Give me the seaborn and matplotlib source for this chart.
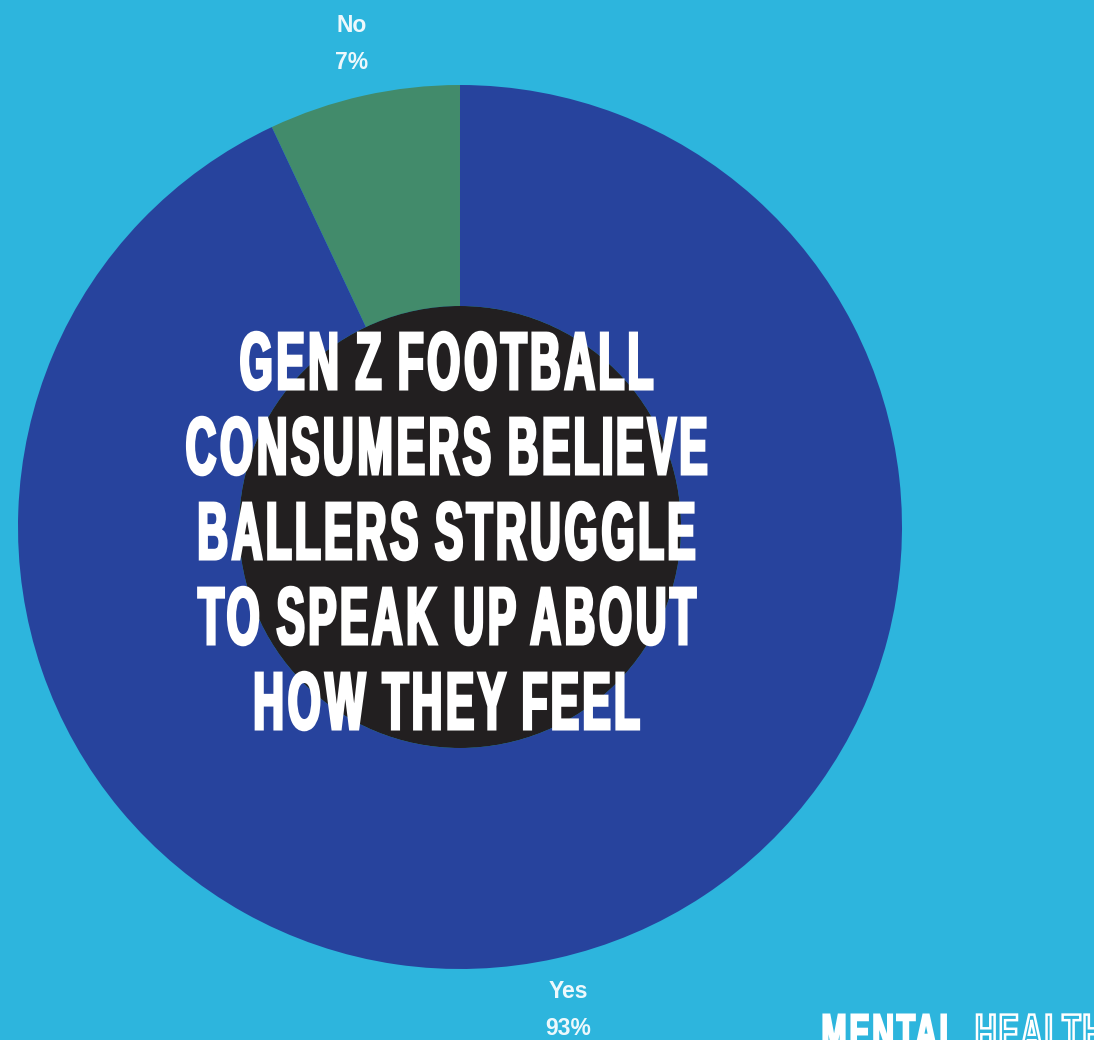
import numpy as np
import matplotlib
matplotlib.use("Agg")
import matplotlib.pyplot as plt
import seaborn as sns
from matplotlib.patches import Circle
from matplotlib.patheffects import AbstractPathEffect
from matplotlib.path import Path

# ---- data ----
answers = ["No", "Yes"]
shares = [7, 93]
slice_colors = ["#428b6b", "#27439d"]
headline_lines = [
    "GEN Z FOOTBALL",
    "CONSUMERS BELIEVE",
    "BALLERS STRUGGLE",
    "TO SPEAK UP ABOUT",
    "HOW THEY FEEL",
]
badge_words = ["MENTAL", "HEALTH"]

BG = "#2db5dd"
HOLE = "#221f20"

sns.set_theme(style="white")
plt.rcParams["font.family"] = ["Liberation Sans", "DejaVu Sans"]


def _squeeze(path, sx_glyph, sx_pos, anchor):
    """Narrow every glyph and pull the glyphs closer together."""
    verts = path.vertices.copy()
    codes = path.codes
    if codes is None or len(verts) == 0:
        return path
    starts = list(np.where(codes == Path.MOVETO)[0]) + [len(verts)]
    spans = [(starts[i], starts[i + 1]) for i in range(len(starts) - 1)]
    boxes = [(verts[a:b, 0].min(), verts[a:b, 0].max()) for a, b in spans]
    x_min, x_max = verts[:, 0].min(), verts[:, 0].max()
    ref = 0.5 * (x_min + x_max) if anchor == "center" else x_min
    for i, (a, b) in enumerate(spans):
        x0, x1 = boxes[i]
        owner = None
        for j, (y0, y1) in enumerate(boxes):
            if j != i and y0 <= x0 + 1e-6 and y1 >= x1 - 1e-6 and (y1 - y0) > (x1 - x0):
                if owner is None or (y1 - y0) < boxes[owner][1] - boxes[owner][0]:
                    owner = j
        if owner is not None:
            x0, x1 = boxes[owner]
        c = 0.5 * (x0 + x1)
        c_new = ref + sx_pos * (c - ref)
        verts[a:b, 0] = c_new + sx_glyph * (verts[a:b, 0] - c)
    return Path(verts, codes)


class Condensed(AbstractPathEffect):
    """Draw text as a condensed face, with an optional outline."""

    def __init__(self, sx_glyph=0.55, sx_pos=0.6, lw=0.0, edge=None, anchor="center"):
        super().__init__()
        self.sx_glyph = sx_glyph
        self.sx_pos = sx_pos
        self.lw = lw
        self.edge = edge
        self.anchor = anchor

    def draw_path(self, renderer, gc, tpath, affine, rgbFace=None):
        p = _squeeze(tpath, self.sx_glyph, self.sx_pos, self.anchor)
        gc0 = renderer.new_gc()
        gc0.copy_properties(gc)
        if self.lw > 0:
            gc0.set_linewidth(self.lw)
            gc0.set_foreground(self.edge if self.edge is not None else rgbFace)
            gc0.set_joinstyle("miter")
        else:
            gc0.set_linewidth(0)
        renderer.draw_path(gc0, p, affine, rgbFace)
        gc0.restore()


W, H = 1094, 1040
fig = plt.figure(figsize=(W / 100, H / 100), dpi=100, facecolor=BG)

cx_px, cy_px, r_px = 460, 527, 442
ax = fig.add_axes([(cx_px - r_px) / W, (H - cy_px - r_px) / H, 2 * r_px / W, 2 * r_px / H])
ax.set_facecolor(BG)

labels = [f"{a}\n{s}%" for a, s in zip(answers, shares)]
wedges, texts = ax.pie(
    shares,
    labels=labels,
    colors=slice_colors,
    startangle=90,
    counterclock=True,
    radius=1.0,
    labeldistance=1.12,
    wedgeprops=dict(width=0.5, linewidth=0),
    textprops=dict(color="white", fontsize=16.5, fontweight="bold", alpha=0.92),
)
for t in texts:
    t.set_ha("center")
    t.set_va("center")
    t.set_linespacing(1.8)

ax.add_patch(Circle((0, 0), 0.5, facecolor=HOLE, edgecolor="none", zorder=3))
ax.set_xlim(-1, 1)
ax.set_ylim(-1, 1)
ax.set_aspect("equal")
ax.axis("off")

# headline over the chart
baselines = [389, 474, 559, 644, 729]
for line, yb in zip(headline_lines, baselines):
    fig.text(
        447 / W, 1 - yb / H, line,
        ha="center", va="baseline", color="white",
        fontsize=58.5, fontweight="bold", zorder=10,
        path_effects=[Condensed(sx_glyph=0.52, sx_pos=0.585, lw=2.2)],
    )

# corner badge
fig.text(820 / W, 1 - 1049 / H, badge_words[0], ha="left", va="baseline",
         color="white", fontsize=36, fontweight="bold",
         path_effects=[Condensed(sx_glyph=0.6, sx_pos=0.68, lw=1.6, anchor="left")])
fig.text(974 / W, 1 - 1049 / H, badge_words[1], ha="left", va="baseline",
         color=BG, fontsize=36, fontweight="bold",
         path_effects=[Condensed(sx_glyph=0.6, sx_pos=0.66, lw=1.8, edge="white",
                                 anchor="left")])

fig.savefig("out.png", dpi=100, facecolor=BG)
